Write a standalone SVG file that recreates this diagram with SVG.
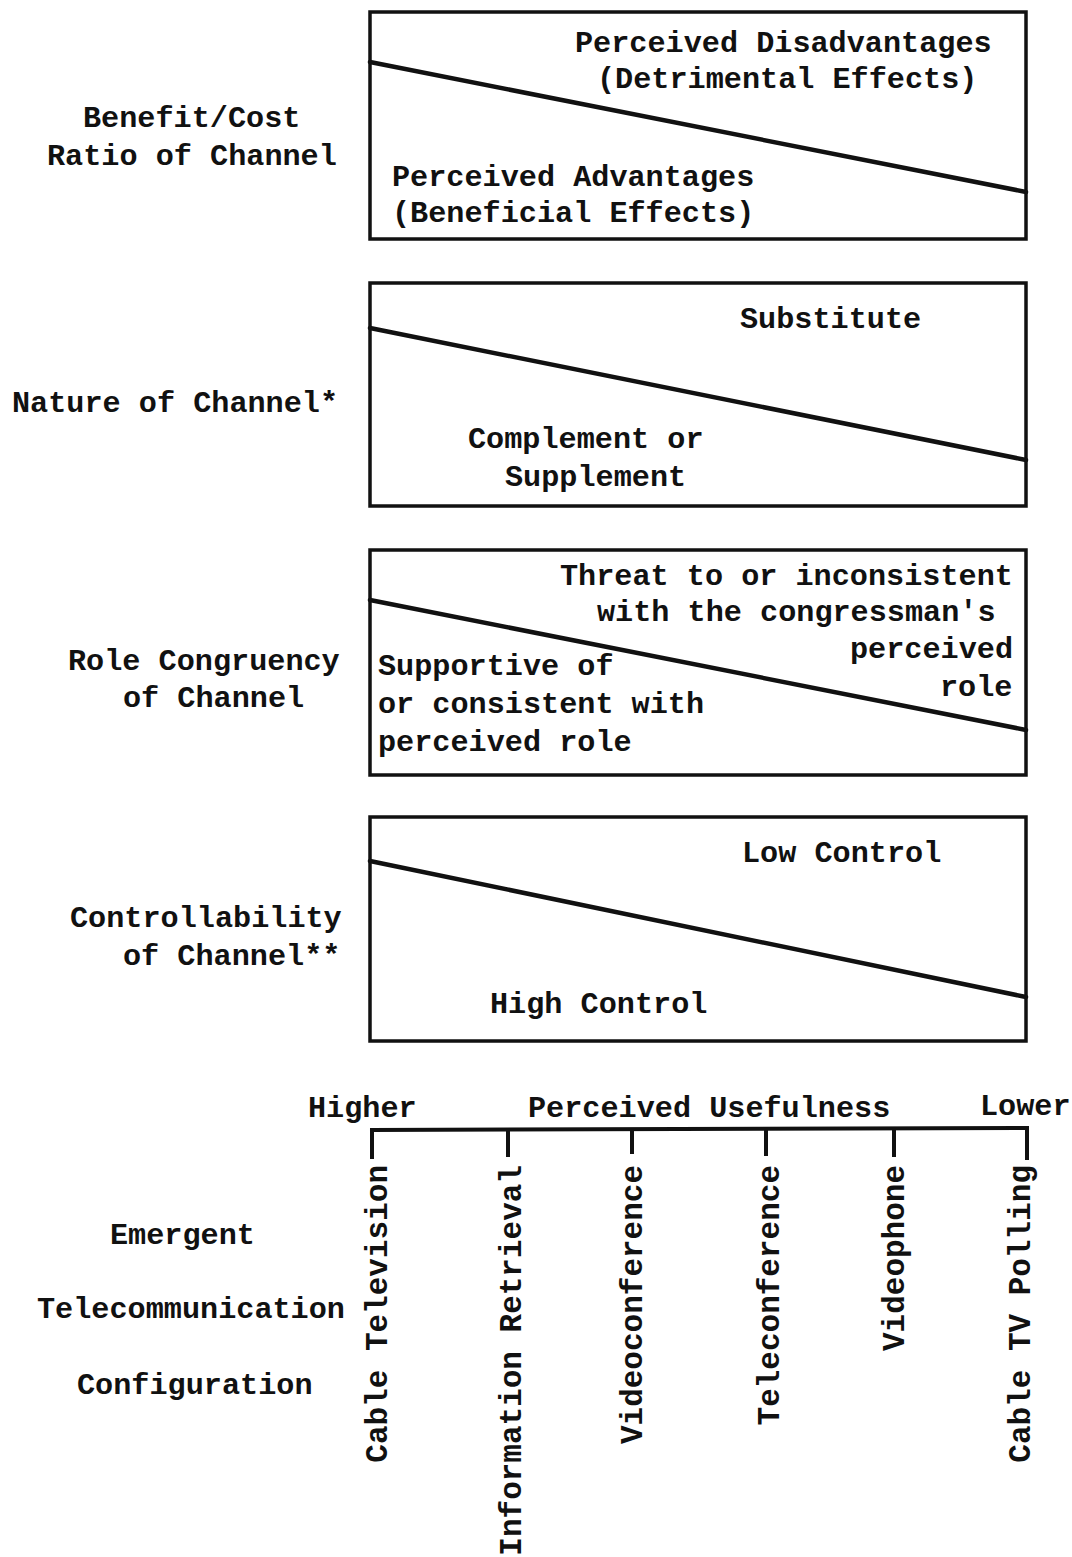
<svg xmlns="http://www.w3.org/2000/svg" width="1072" height="1557" viewBox="0 0 1072 1557">
<style>
  text { font-family: "Liberation Mono", "Courier New", monospace; font-size: 30.2px; font-weight: bold; fill: #111; }
  .rot { font-size: 31px; }
  .box { fill: none; stroke: #111; stroke-width: 3.5; }
  .div { stroke: #111; stroke-width: 4.5; stroke-linecap: round; fill: none; }
  .axis { stroke: #111; stroke-width: 4; fill: none; stroke-linecap: square; }
</style>
<rect width="1072" height="1557" fill="#fff"/>

<g id="label-benefit">
  <text x="83" y="127">Benefit/Cost</text>
  <text x="47" y="165">Ratio of Channel</text>
</g>
<g id="box-benefit">
  <rect class="box" x="370" y="12" width="656" height="227"/>
  <line class="div" x1="370" y1="62" x2="1026" y2="192"/>
  <text x="575" y="52">Perceived Disadvantages</text>
  <text x="597" y="88">(Detrimental Effects)</text>
  <text x="392" y="186">Perceived Advantages</text>
  <text x="392" y="222">(Beneficial Effects)</text>
</g>

<g id="label-nature">
  <text x="12" y="412">Nature of Channel*</text>
</g>
<g id="box-nature">
  <rect class="box" x="370" y="283" width="656" height="223"/>
  <line class="div" x1="370" y1="328" x2="1026" y2="460"/>
  <text x="740" y="328">Substitute</text>
  <text x="468" y="448">Complement or</text>
  <text x="505" y="486">Supplement</text>
</g>

<g id="label-role">
  <text x="68" y="670">Role Congruency</text>
  <text x="123" y="707">of Channel</text>
</g>
<g id="box-role">
  <rect class="box" x="370" y="550" width="656" height="225"/>
  <line class="div" x1="370" y1="600" x2="1026" y2="730"/>
  <text x="560" y="585">Threat to or inconsistent</text>
  <text x="597" y="621">with the congressman's</text>
  <text x="850" y="658">perceived</text>
  <text x="940" y="696">role</text>
  <text x="378" y="675">Supportive of</text>
  <text x="378" y="713">or consistent with</text>
  <text x="378" y="751">perceived role</text>
</g>

<g id="label-control">
  <text x="70" y="927">Controllability</text>
  <text x="123" y="965">of Channel**</text>
</g>
<g id="box-control">
  <rect class="box" x="370" y="817" width="656" height="224"/>
  <line class="div" x1="370" y1="861" x2="1026" y2="997"/>
  <text x="742" y="862">Low Control</text>
  <text x="490" y="1013">High Control</text>
</g>

<g id="label-emergent">
  <text x="110" y="1244">Emergent</text>
  <text x="37" y="1318">Telecommunication</text>
  <text x="77" y="1394">Configuration</text>
</g>

<g id="scale-labels">
  <text x="308" y="1117">Higher</text>
  <text x="528" y="1117">Perceived Usefulness</text>
  <text x="980" y="1115">Lower</text>
</g>

<g id="connectors">
  <line class="axis" x1="372" y1="1130" x2="1027" y2="1128"/>
  <line class="axis" x1="372" y1="1130" x2="372" y2="1157"/>
  <line class="axis" x1="508" y1="1130" x2="508" y2="1155"/>
  <line class="axis" x1="632" y1="1130" x2="632" y2="1152"/>
  <line class="axis" x1="766" y1="1129" x2="766" y2="1154"/>
  <line class="axis" x1="894" y1="1129" x2="894" y2="1155"/>
  <line class="axis" x1="1027" y1="1128" x2="1027" y2="1158"/>
</g>

<g id="item-cable-television"><text class="rot" transform="translate(387,1165) rotate(-90)" text-anchor="end">Cable Television</text></g>
<g id="item-information-retrieval"><text class="rot" transform="translate(521,1165) rotate(-90)" text-anchor="end">Information Retrieval</text></g>
<g id="item-videoconference"><text class="rot" transform="translate(642,1165) rotate(-90)" text-anchor="end">Videoconference</text></g>
<g id="item-teleconference"><text class="rot" transform="translate(779,1165) rotate(-90)" text-anchor="end">Teleconference</text></g>
<g id="item-videophone"><text class="rot" transform="translate(904,1165) rotate(-90)" text-anchor="end">Videophone</text></g>
<g id="item-cable-tv-polling"><text class="rot" transform="translate(1030,1165) rotate(-90)" text-anchor="end">Cable TV Polling</text></g>
</svg>
